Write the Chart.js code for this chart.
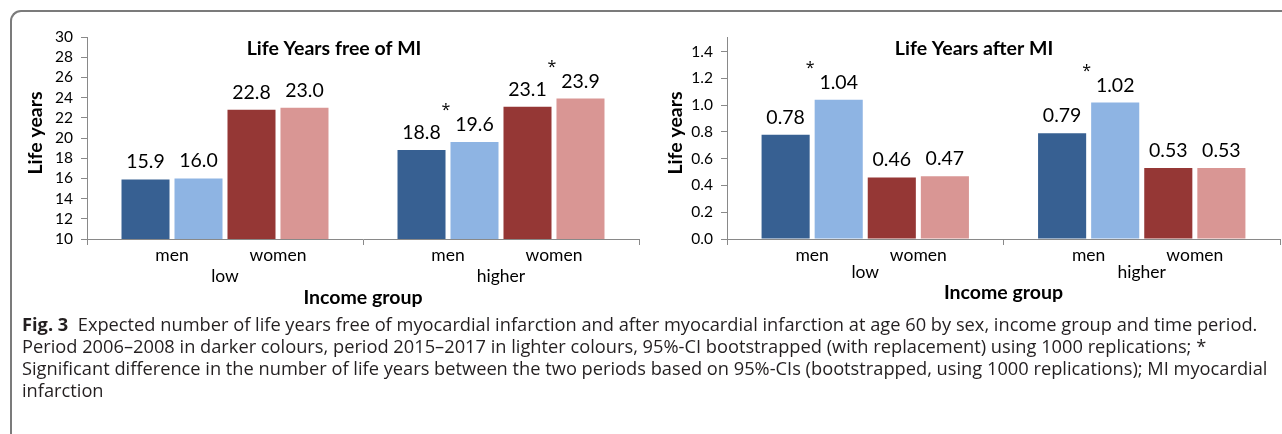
<!DOCTYPE html>
<html>
<head>
<meta charset="utf-8">
<script src="https://cdn.jsdelivr.net/npm/chart.js@4"></script>
<style>
  html, body { margin: 0; padding: 0; background: #fff; }
  body { width: 1282px; height: 434px; position: relative; overflow: hidden; }
  .frame {
    position: absolute; left: 10px; top: 10px; width: 1400px; height: 600px;
    border-top: 2px solid #7b7b7b; border-left: 2px solid #7b7b7b;
    border-top-left-radius: 11px; box-sizing: border-box;
  }
  canvas { position: absolute; top: 0; }
  #leftChart { left: 0; }
  #rightChart { left: 640px; }
  .caption {
    position: absolute; left: 22px; top: 313px;
    font-family: "Open Sans", "Noto Sans", sans-serif; font-size: 18.25px; line-height: 22px;
    color: #231f20; white-space: nowrap;
  }
  .caption b { font-weight: 700; }
</style>
</head>
<body>
<div class="frame"></div>
<canvas id="leftChart" width="640" height="320"></canvas>
<canvas id="rightChart" width="642" height="320"></canvas>
<div class="caption" id="caption">
  <div><b>Fig. 3</b>&nbsp; Expected number of life years free of myocardial infarction and after myocardial infarction at age 60 by sex, income group and time period.</div>
  <div>Period 2006–2008 in darker colours, period 2015–2017 in lighter colours, 95%-CI bootstrapped (with replacement) using 1000 replications; *</div>
  <div>Significant difference in the number of life years between the two periods based on 95%-CIs (bootstrapped, using 1000 replications); MI myocardial</div>
  <div>infarction</div>
</div>
<script>
// Income groups on the category axis, sexes as sub-groups within each
const incomeGroups = ['low', 'higher'];
const sexes = ['men', 'women'];
const periods = ['2006–2008', '2015–2017'];

// Life years free of MI (at age 60)
const freeMen2006 = [15.9, 18.8];
const freeMen2015 = [16.0, 19.6];
const freeWomen2006 = [22.8, 23.1];
const freeWomen2015 = [23.0, 23.9];
const freeSigMen = [false, true];
const freeSigWomen = [false, true];
const freeTicks = [10, 12, 14, 16, 18, 20, 22, 24, 26, 28, 30];

// Life years after MI (at age 60)
const afterMen2006 = [0.78, 0.79];
const afterMen2015 = [1.04, 1.02];
const afterWomen2006 = [0.46, 0.53];
const afterWomen2015 = [0.47, 0.53];
const afterSigMen = [true, true];
const afterSigWomen = [false, false];
const afterTicks = [0.0, 0.2, 0.4, 0.6, 0.8, 1.0, 1.2, 1.4];

const colours = {
  menDark: '#376092', menLight: '#8eb4e3',
  womenDark: '#953735', womenLight: '#d99694'
};
const axisGrey = '#898989';
const FONT = 'Lato, "Open Sans", sans-serif';
const PLOT_TOP = 37, PLOT_BOTTOM = 239, AXIS_LEFT = 87;

function makeDatasets(m1, m2, w1, w2) {
  const common = { categoryPercentage: 0.768, barPercentage: 0.906, borderWidth: 0 };
  return [
    Object.assign({ label: sexes[0] + ' ' + periods[0], data: m1, backgroundColor: colours.menDark }, common),
    Object.assign({ label: sexes[0] + ' ' + periods[1], data: m2, backgroundColor: colours.menLight }, common),
    Object.assign({ label: sexes[1] + ' ' + periods[0], data: w1, backgroundColor: colours.womenDark }, common),
    Object.assign({ label: sexes[1] + ' ' + periods[1], data: w2, backgroundColor: colours.womenLight }, common)
  ];
}

// Draws titles, category sub-labels, value labels and significance marks
function annotations(opts) {
  return {
    id: 'annotations',
    afterDatasetsDraw(chart) {
      const ctx = chart.ctx;
      const metas = [0, 1, 2, 3].map(i => chart.getDatasetMeta(i));
      ctx.save();
      ctx.fillStyle = '#000';
      ctx.textAlign = 'center';
      ctx.textBaseline = 'middle';

      // chart title
      ctx.font = 'bold 19.5px ' + FONT;
      ctx.fillText(opts.title, opts.titleX, 49);

      // y axis title
      ctx.save();
      ctx.translate(36, 133);
      ctx.rotate(-Math.PI / 2);
      ctx.font = 'bold 19.5px ' + FONT;
      ctx.fillText('Life years', 0, 0);
      ctx.restore();

      // value labels
      ctx.font = '19.5px ' + FONT;
      ctx.textBaseline = 'alphabetic';
      metas.forEach((meta, di) => {
        meta.data.forEach((bar, i) => {
          const v = chart.data.datasets[di].data[i];
          ctx.fillText(v.toFixed(opts.decimals), bar.x, bar.y - 11);
        });
      });

      // significance marks between the two periods
      ctx.font = '16px "Open Sans", sans-serif';
      [[0, 1, opts.sigMen], [2, 3, opts.sigWomen]].forEach(([a, b, sig]) => {
        sig.forEach((s, i) => {
          if (!s) return;
          const dark = metas[a].data[i], light = metas[b].data[i];
          const x = (dark.x + light.x) / 2 - 2;
          ctx.fillText('*', x, light.y - 27);
        });
      });

      // sex labels under each pair of bars, income groups below
      ctx.textBaseline = 'middle';
      ctx.font = '17.5px ' + FONT;
      incomeGroups.forEach((g, i) => {
        const menX = (metas[0].data[i].x + metas[1].data[i].x) / 2;
        const womenX = (metas[2].data[i].x + metas[3].data[i].x) / 2;
        ctx.fillText(sexes[0], menX, 255);
        ctx.fillText(sexes[1], womenX, 255);
        ctx.fillText(g, chart.scales.x.getPixelForValue(i), opts.groupY);
      });

      ctx.font = 'bold 19.5px ' + FONT;
      ctx.fillText('Income group', (chart.chartArea.left + chart.chartArea.right) / 2, opts.xTitleY);
      ctx.restore();
    }
  };
}

function makeChart(id, cfg) {
  const canvas = document.getElementById(id);
  const H = canvas.height;
  return new Chart(canvas, {
    type: 'bar',
    data: {
      labels: incomeGroups,
      datasets: makeDatasets(cfg.m1, cfg.m2, cfg.w1, cfg.w2)
    },
    options: {
      responsive: false,
      animation: false,
      devicePixelRatio: 1,
      layout: { padding: { top: PLOT_TOP, left: 0, right: cfg.padRight, bottom: 0 } },
      plugins: { legend: { display: false }, tooltip: { enabled: false }, title: { display: false } },
      scales: {
        x: {
          grid: { offset: true, drawOnChartArea: false, drawTicks: true, tickLength: 6, color: axisGrey, lineWidth: 1 },
          border: { color: axisGrey, width: 1 },
          ticks: { display: false },
          afterFit(s) { s.height = H - PLOT_BOTTOM; }
        },
        y: {
          min: cfg.min, max: cfg.max,
          grid: { drawOnChartArea: false, drawTicks: true, tickLength: 6, color: axisGrey, lineWidth: 1 },
          border: { color: axisGrey, width: 1 },
          ticks: {
            padding: 8, color: '#000', autoSkip: false,
            font: { family: FONT, size: 15.5 },
            callback: v => v.toFixed(cfg.tickDecimals)
          },
          afterBuildTicks(s) { s.ticks = cfg.ticks.map(v => ({ value: v })); },
          afterFit(s) { s.width = AXIS_LEFT; }
        }
      }
    },
    plugins: [annotations(cfg)]
  });
}

makeChart('leftChart', {
  m1: freeMen2006, m2: freeMen2015, w1: freeWomen2006, w2: freeWomen2015,
  sigMen: freeSigMen, sigWomen: freeSigWomen,
  min: 10, max: 30, ticks: freeTicks, tickDecimals: 0, decimals: 1,
  title: 'Life Years free of MI', titleX: 334, groupY: 276, xTitleY: 298, padRight: 1
});

makeChart('rightChart', {
  m1: afterMen2006, m2: afterMen2015, w1: afterWomen2006, w2: afterWomen2015,
  sigMen: afterSigMen, sigWomen: afterSigWomen,
  min: 0, max: 1.51, ticks: afterTicks, tickDecimals: 1, decimals: 2,
  title: 'Life Years after MI', titleX: 334, groupY: 272, xTitleY: 293, padRight: 2
});
</script>
</body>
</html>
